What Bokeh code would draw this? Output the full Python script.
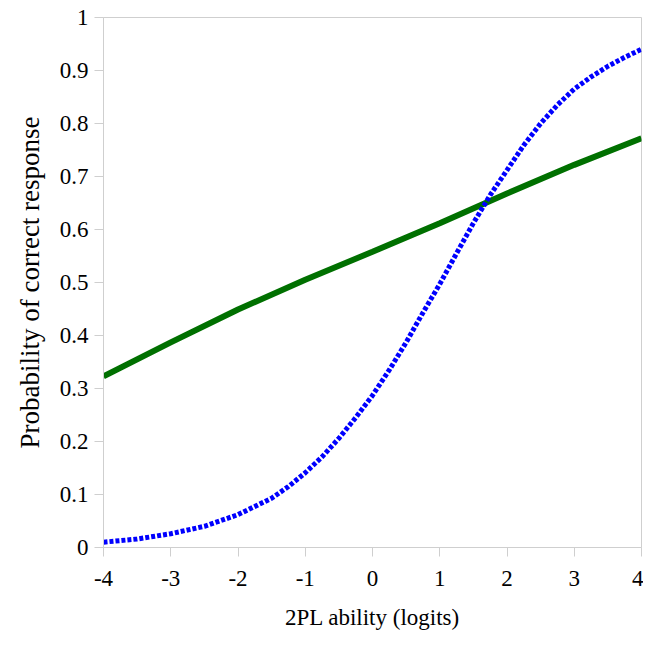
from bokeh.plotting import figure
from bokeh.models import Range1d, FixedTicker
from bokeh.embed import file_html
from bokeh.resources import INLINE

# Data
ability_green = [-4, -3, -2, -1, 0, 1, 2, 3, 4]
prob_green = [0.323, 0.387, 0.449, 0.505, 0.558, 0.612, 0.668, 0.722, 0.772]

ability_blue = [-4, -3.5, -3, -2.5, -2, -1.5, -1.25, -1, -0.75, -0.5, -0.25, 0, 0.25,
                0.5, 0.75, 1, 1.25, 1.5, 1.75, 2, 2.25, 2.5, 2.75, 3, 3.25, 3.5, 3.75, 4]
prob_blue = [0.010, 0.016, 0.026, 0.040, 0.062, 0.093, 0.115, 0.141, 0.171, 0.206,
             0.245, 0.287, 0.335, 0.387, 0.443, 0.497, 0.555, 0.612, 0.665, 0.712,
             0.759, 0.800, 0.835, 0.865, 0.888, 0.908, 0.925, 0.940]

x_ticks = [-4, -3, -2, -1, 0, 1, 2, 3, 4]
y_ticks = [0, 0.1, 0.2, 0.3, 0.4, 0.5, 0.6, 0.7, 0.8, 0.9, 1.0]
y_tick_labels = ["0", "0.1", "0.2", "0.3", "0.4", "0.5", "0.6", "0.7", "0.8", "0.9", "1"]

FONT = "Liberation Serif"
GREY = "#cfcfcf"

p = figure(width=643, height=644, output_backend="svg", toolbar_location=None,
           x_range=Range1d(-4, 4), y_range=Range1d(0, 1),
           min_border_left=103, min_border_right=2, min_border_top=17, min_border_bottom=97)

p.background_fill_color = "white"
p.border_fill_color = "white"
p.outline_line_color = GREY
p.outline_line_width = 1
p.xgrid.visible = False
p.ygrid.visible = False

p.line(ability_green, prob_green, line_color="#007000", line_width=6)
p.line(ability_blue, prob_blue, line_color="#0000ff", line_width=5,
       line_dash="4 2", line_cap="butt", line_join="round")

for ax in (p.xaxis[0], p.yaxis[0]):
    ax.axis_line_color = GREY
    ax.major_tick_line_color = GREY
    ax.major_tick_in = 0
    ax.major_tick_out = 9
    ax.minor_tick_line_color = None
    ax.major_label_text_font = FONT
    ax.major_label_text_font_size = "23px"
    ax.major_label_text_color = "black"
    ax.axis_label_text_font = FONT
    ax.axis_label_text_font_size = "23px"
    ax.axis_label_text_font_style = "normal"
    ax.axis_label_text_color = "black"

p.xaxis.ticker = FixedTicker(ticks=x_ticks)
p.xaxis.major_label_overrides = {t: str(t) for t in x_ticks}
p.xaxis.axis_label = "2PL ability (logits)"
p.xaxis.major_label_standoff = 14
p.xaxis.axis_label_standoff = 16

p.yaxis.ticker = FixedTicker(ticks=y_ticks)
p.yaxis.major_label_overrides = {t: l for t, l in zip(y_ticks, y_tick_labels)}
p.yaxis.axis_label = "Probability of correct response"
p.yaxis.axis_label_text_font_size = "27px"
p.yaxis.major_label_standoff = 6
p.yaxis.axis_label_standoff = 12

open("out.html", "w").write(file_html(p, INLINE))
